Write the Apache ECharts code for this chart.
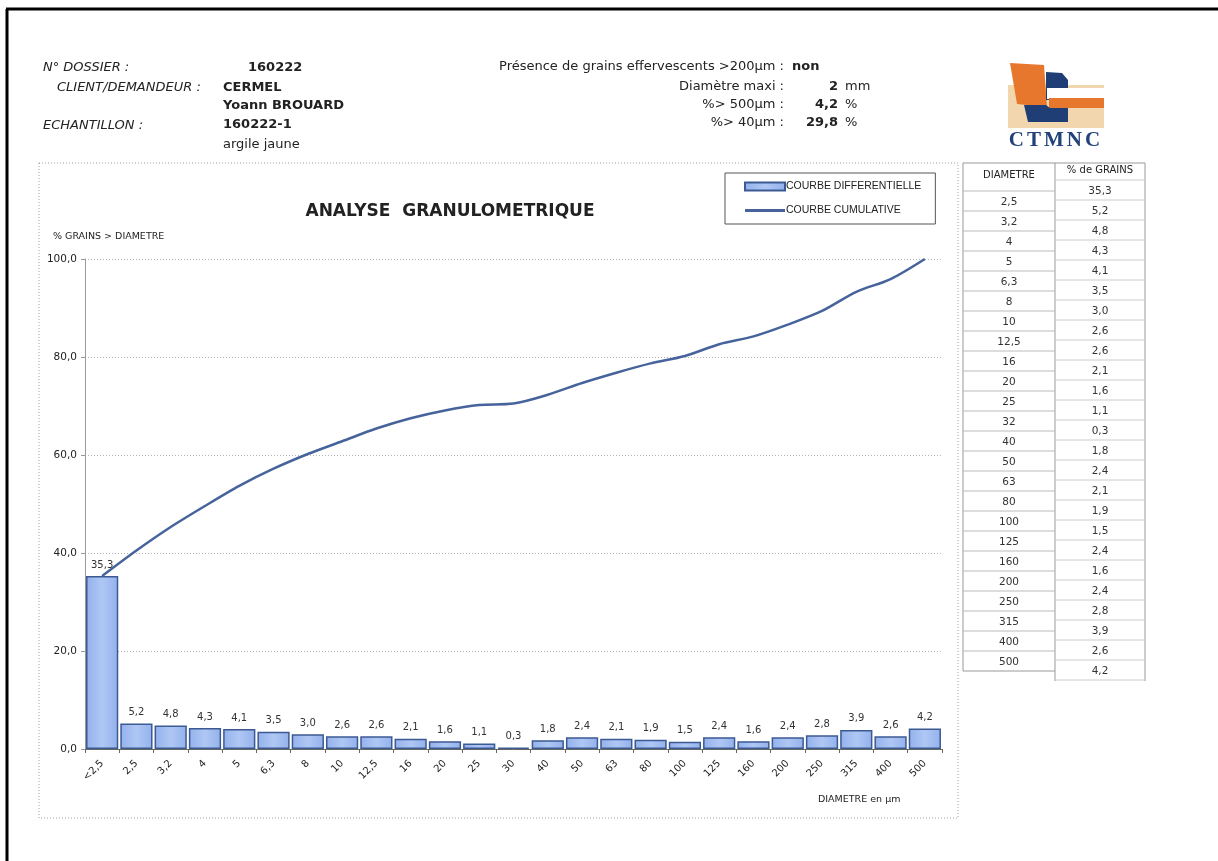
<!DOCTYPE html>
<html>
<head>
<meta charset="utf-8">
<title>Analyse granulométrique</title>
<script src="https://cdn.jsdelivr.net/npm/echarts@6/dist/echarts.min.js"></script>
<style>
  html, body { margin: 0; padding: 0; background: #fff; }
  #main { position: absolute; left: 0; top: 0; width: 1218px; height: 861px; }
  #logoText {
    position: absolute; left: 996px; top: 127px; width: 120px; text-align: center;
    font: bold 21px "Liberation Serif", serif; letter-spacing: 3px; color: #22427a;
  }
</style>
</head>
<body>
<div id="main"></div>
<div id="logoText">CTMNC</div>
<script>
// diametres (µm) et pourcentages
const categories = ['<2,5', '2,5', '3,2', '4', '5', '6,3', '8', '10', '12,5', '16', '20', '25', '30',
  '40', '50', '63', '80', '100', '125', '160', '200', '250', '315', '400', '500'];
const differential = [35.3, 5.2, 4.8, 4.3, 4.1, 3.5, 3.0, 2.6, 2.6, 2.1, 1.6, 1.1, 0.3,
  1.8, 2.4, 2.1, 1.9, 1.5, 2.4, 1.6, 2.4, 2.8, 3.9, 2.6, 4.2];
const cumulative = [35.3, 40.5, 45.3, 49.6, 53.7, 57.2, 60.2, 62.8, 65.4, 67.5, 69.1, 70.2, 70.5,
  72.3, 74.7, 76.8, 78.7, 80.2, 82.6, 84.2, 86.6, 89.4, 93.3, 95.9, 100.0];
const tableDiam = ['2,5', '3,2', '4', '5', '6,3', '8', '10', '12,5', '16', '20', '25', '32', '40',
  '50', '63', '80', '100', '125', '160', '200', '250', '315', '400', '500'];

const comma = v => v.toFixed(1).replace('.', ',');
const FONT = '"DejaVu Sans", Verdana, sans-serif';

function txt(x, y, text, opt) {
  opt = opt || {};
  return {
    type: 'text', silent: true, z: 10,
    style: {
      x: x, y: y, text: text,
      font: (opt.style || '') + ' ' + (opt.weight || 'normal') + ' ' + (opt.size || 13) + 'px ' + (opt.family || FONT),
      fill: opt.color || '#222',
      textAlign: opt.align || 'left',
      textVerticalAlign: 'middle'
    }
  };
}
function hline(x1, x2, y, color, w) {
  return { type: 'line', silent: true, shape: { x1: x1, y1: y, x2: x2, y2: y },
    style: { stroke: color || '#bbb', lineWidth: w || 1 } };
}
function vline(x, y1, y2, color, w) {
  return { type: 'line', silent: true, shape: { x1: x, y1: y1, x2: x, y2: y2 },
    style: { stroke: color || '#bbb', lineWidth: w || 1 } };
}

var graphics = [
  // bord du document
  vline(7, 9, 861, '#000', 3),
  hline(6, 1218, 9, '#000', 3),
  // cadre du graphique
  { type: 'rect', silent: true, shape: { x: 39, y: 163, width: 919, height: 655 },
    style: { fill: 'none', stroke: '#a0a0a0', lineWidth: 1, lineDash: [1, 2] } },

  // en-tete gauche
  txt(43, 68, 'N° DOSSIER :', { style: 'italic' }),
  txt(248, 68, '160222', { weight: 'bold' }),
  txt(57, 88, 'CLIENT/DEMANDEUR :', { style: 'italic' }),
  txt(223, 88, 'CERMEL', { weight: 'bold' }),
  txt(223, 106, 'Yoann BROUARD', { weight: 'bold' }),
  txt(43, 126, 'ECHANTILLON :', { style: 'italic' }),
  txt(223, 125, '160222-1', { weight: 'bold' }),
  txt(223, 145, 'argile jaune'),

  // en-tete milieu
  txt(784, 67, 'Présence de grains effervescents >200µm :', { align: 'right' }),
  txt(792, 67, 'non', { weight: 'bold' }),
  txt(784, 87, 'Diamètre maxi :', { align: 'right' }),
  txt(838, 87, '2', { weight: 'bold', align: 'right' }),
  txt(845, 87, 'mm'),
  txt(784, 105, '%> 500µm :', { align: 'right' }),
  txt(838, 105, '4,2', { weight: 'bold', align: 'right' }),
  txt(845, 105, '%'),
  txt(784, 123, '%> 40µm :', { align: 'right' }),
  txt(838, 123, '29,8', { weight: 'bold', align: 'right' }),
  txt(845, 123, '%'),

  // logo
  { type: 'rect', silent: true, shape: { x: 1008, y: 85, width: 96, height: 43 }, style: { fill: '#f2d6ad' } },
  { type: 'polygon', silent: true, shape: { points: [[1010, 63], [1044, 65], [1047, 107], [1017, 104]] }, style: { fill: '#e8772e' } },
  { type: 'polygon', silent: true, shape: { points: [[1046, 72], [1062, 73], [1068, 80], [1068, 100], [1046, 100]] }, style: { fill: '#1f3e75' } },
  { type: 'rect', silent: true, shape: { x: 1047, y: 88, width: 57, height: 11 }, style: { fill: '#ffffff' } },
  { type: 'rect', silent: true, shape: { x: 1049, y: 98, width: 55, height: 10 }, style: { fill: '#e8772e' } },
  { type: 'polygon', silent: true, shape: { points: [[1024, 105], [1046, 105], [1050, 108], [1068, 108], [1068, 122], [1028, 122]] }, style: { fill: '#1f3e75' } },

  // petits textes du graphique
  txt(53, 237, '% GRAINS > DIAMETRE', { size: 9.5 }),
  txt(818, 800, 'DIAMETRE en µm', { size: 9.5 }),

  // tableau
  vline(963, 163, 671, '#999'),
  vline(1055, 163, 681, '#999'),
  vline(1145, 163, 681, '#999'),
  hline(963, 1145, 163, '#999'),
  txt(1009, 175, 'DIAMETRE', { size: 10, align: 'center' }),
  txt(1100, 170, '% de GRAINS', { size: 10, align: 'center' })
];

tableDiam.forEach(function (d, i) {
  graphics.push(hline(963, 1055, 191 + 20 * i, '#bbb'));
  graphics.push(txt(1009, 202 + 20 * i, d, { size: 10.5, align: 'center', color: '#333' }));
});
graphics.push(hline(963, 1055, 191 + 20 * tableDiam.length, '#999'));
differential.forEach(function (v, i) {
  graphics.push(hline(1055, 1145, 180 + 20 * i, '#ccc'));
  graphics.push(txt(1100, 191 + 20 * i, comma(v), { size: 10.5, align: 'center', color: '#333' }));
});
graphics.push(hline(1055, 1145, 180 + 20 * differential.length, '#ccc'));

const option = {
  animation: false,
  textStyle: { fontFamily: FONT },
  title: {
    text: 'ANALYSE  GRANULOMETRIQUE',
    left: 445, top: 198, textAlign: 'center',
    textStyle: { fontFamily: FONT, fontSize: 17, fontWeight: 'bold', color: '#222' }
  },
  legend: {
    orient: 'vertical',
    left: 725, top: 173,
    padding: [8, 14, 8, 19],
    itemWidth: 40, itemHeight: 8, itemGap: 13,
    borderColor: '#555', borderWidth: 1,
    textStyle: { fontFamily: '"Liberation Sans", Arial, sans-serif', fontSize: 10.5, color: '#222', padding: [0, 0, 0, -4] },
    data: [
      { name: 'COURBE DIFFERENTIELLE', icon: 'rect' },
      { name: 'COURBE CUMULATIVE', icon: 'path://M0,0 L40,0 L40,3 L0,3 Z' }
    ]
  },
  grid: { left: 85, right: 276, top: 259, bottom: 112 },
  xAxis: {
    type: 'category',
    data: categories,
    axisLine: { lineStyle: { color: '#666', width: 1 } },
    axisTick: { show: true, length: 4, lineStyle: { color: '#666' } },
    axisLabel: { rotate: 45, fontSize: 10, color: '#222', margin: 13, fontFamily: FONT }
  },
  yAxis: {
    type: 'value',
    min: 0, max: 100, interval: 20,
    axisLine: { show: true, lineStyle: { color: '#999' } },
    axisTick: { show: true, length: 4, lineStyle: { color: '#999' } },
    axisLabel: { formatter: v => comma(v), fontSize: 10.5, color: '#222', margin: 8, fontFamily: FONT },
    splitLine: { lineStyle: { color: '#b5b5b5', type: [1, 2] } }
  },
  series: [
    {
      name: 'COURBE DIFFERENTIELLE',
      type: 'bar',
      data: differential,
      barCategoryGap: '6%',
      itemStyle: {
        color: new echarts.graphic.LinearGradient(0, 0, 1, 0, [
          { offset: 0, color: '#93b1ec' },
          { offset: 0.5, color: '#afc7f4' },
          { offset: 1, color: '#93b1ec' }
        ]),
        borderColor: '#3c5a92', borderWidth: 1.5
      },
      label: {
        show: true, position: 'top', distance: 6,
        formatter: p => comma(p.value),
        fontSize: 10, color: '#333', fontFamily: FONT
      }
    },
    {
      name: 'COURBE CUMULATIVE',
      type: 'line',
      data: cumulative,
      smooth: 0.3,
      symbol: 'none',
      z: 5,
      lineStyle: { color: '#46649b', width: 2.5 },
      itemStyle: { color: '#46649b' }
    }
  ],
  graphic: graphics
};

const myChart = echarts.init(document.getElementById('main'));
myChart.setOption(option);
window.addEventListener('resize', () => { myChart.resize(); });
</script>
</body>
</html>
